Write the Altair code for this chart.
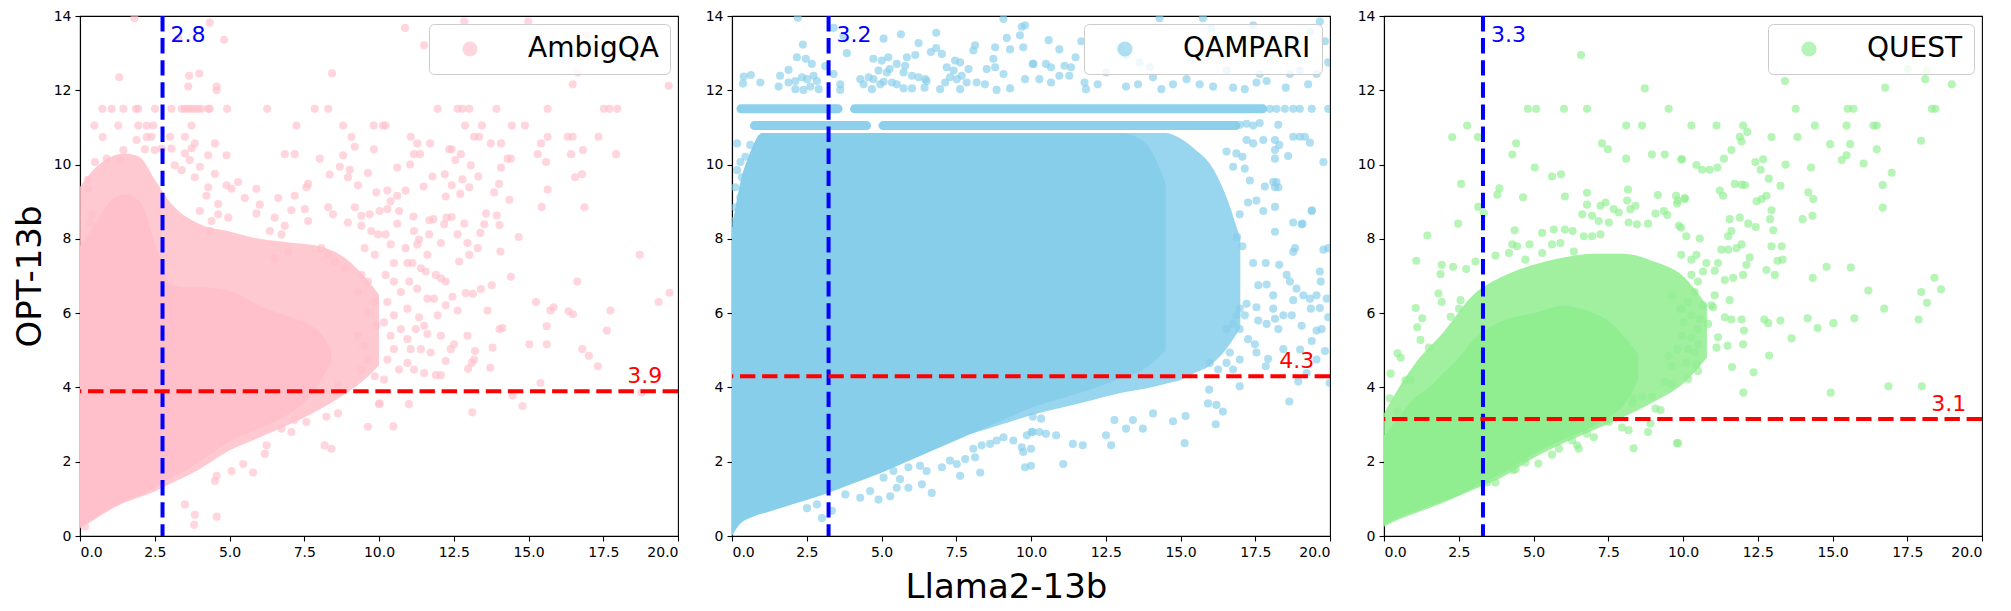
import altair as alt
import pandas as pd

NAMES = ["AmbigQA", "QAMPARI", "QUEST"]
COLORS = ["#FFC0CB", "#87CEEB", "#90EE90"]
VLINE = [2.76, 3.23, 3.31]
VLABEL = ["2.8", "3.2", "3.3"]
HLINE = [3.9, 4.3, 3.15]
HLABEL = ["3.9", "4.3", "3.1"]
HLABEL_X = 18.3
VLABEL_Y = 13.5
X_TICKS = [0, 2.5, 5, 7.5, 10, 12.5, 15, 17.5, 20]
Y_TICKS = [0, 2, 4, 6, 8, 10, 12, 14]

# ---------------- AmbigQA ----------------
AMBIG_CORE_X = [0, 0.5, 1, 1.5, 2, 2.5, 2.8, 3, 3.5, 4, 5, 6, 7, 7.5, 8, 8.4]
AMBIG_CORE_LO = [0.25, 0.5, 0.75, 0.94, 1.1, 1.3, 1.45, 1.55, 1.75, 2.0, 2.55, 2.9, 3.3, 3.6, 4.1, 4.7]
AMBIG_CORE_HI = [7.8, 8.4, 9.0, 9.2, 9.0, 7.9, 7.2, 6.8, 6.7, 6.7, 6.6, 6.2, 5.9, 5.75, 5.5, 5.0]
AMBIG_HALO_X = [0, 0.5, 1, 1.5, 2, 2.5, 3, 4, 5, 6, 7, 8, 9, 9.5, 10]
AMBIG_HALO_LO = [0.2, 0.45, 0.7, 0.9, 1.05, 1.2, 1.4, 1.8, 2.3, 2.65, 3.0, 3.4, 3.9, 4.2, 4.6]
AMBIG_HALO_HI = [9.4, 9.9, 10.2, 10.3, 10.2, 9.6, 9.0, 8.4, 8.2, 8.0, 7.9, 7.8, 7.4, 7.0, 6.5]
AMBIG_PTS = [
    (1.82, 13.94), (4.34, 13.82), (4.82, 13.36), (3.29, 13.39), (1.31, 12.35), (3.65, 12.39),
    (3.99, 12.45), (3.62, 12.1), (4.57, 12.1), (4.57, 12.0), (8.43, 12.46),
    (0.75, 11.5), (1.06, 11.5), (1.45, 11.5), (1.87, 11.5), (1.95, 11.5), (2.51, 11.5), (3.06, 11.5),
    (3.4, 11.5), (3.51, 11.5), (3.62, 11.5), (3.73, 11.5), (3.84, 11.5), (3.95, 11.5), (4.06, 11.5),
    (4.29, 11.5), (4.34, 11.5), (4.92, 11.5), (6.26, 11.5), (7.85, 11.5), (8.3, 11.5), (11.96, 11.5),
    (12.63, 11.5), (12.79, 11.5), (13.02, 11.5), (13.93, 11.5), (15.64, 11.5), (17.52, 11.5),
    (17.71, 11.5), (17.97, 11.5),
    (0.48, 11.05), (1.28, 11.05), (1.95, 11.05), (2.23, 11.05), (2.45, 11.05), (3.73, 11.05),
    (7.24, 11.05), (8.8, 11.05), (9.82, 11.05), (10.13, 11.05), (10.22, 11.05), (12.88, 11.05),
    (13.44, 11.05), (14.44, 11.05), (14.88, 11.05),
    (0.76, 10.74), (3.51, 10.75), (3.84, 10.57), (4.51, 10.57), (6.85, 10.28), (7.18, 10.28),
    (9.08, 10.74), (9.19, 10.48), (8.02, 10.16), (9.83, 10.41), (8.8, 10.25), (0.5, 10.07),
    (0.89, 10.16), (4.9, 10.25), (4.29, 10.25), (8.69, 9.94), (9.02, 9.86), (8.35, 9.73),
    (9.63, 9.77), (7.63, 9.48), (7.57, 9.39), (5.9, 9.35), (7.18, 9.16), (6.63, 9.1), (8.96, 9.66),
    (9.3, 9.44), (9.91, 9.25), (0.26, 9.59), (0.28, 9.35), (5.29, 9.53), (5.07, 9.35), (5.51, 9.1),
    (6.01, 8.92), (5.9, 8.68), (7.07, 8.77), (7.52, 8.8), (8.3, 8.85), (8.46, 8.66), (9.19, 8.85),
    (9.41, 8.62), (9.69, 8.66), (10.02, 8.75), (6.51, 8.57), (6.85, 8.35), (7.63, 8.48), (4.62, 8.66),
    (4.96, 8.57), (4.34, 8.21), (0.39, 8.66), (0.33, 8.44), (8.96, 8.44), (9.41, 8.35), (9.74, 8.21),
    (9.97, 8.12), (6.35, 8.21), (6.74, 8.12), (9.52, 7.75), (9.86, 7.57), (8.07, 7.75), (8.3, 7.57),
    (8.52, 7.39), (8.85, 7.21), (6.96, 7.66), (6.51, 7.48), (9.41, 7.03), (9.63, 6.85), (9.3, 6.57),
    (9.86, 6.3), (9.63, 6.03), (9.91, 5.66), (9.3, 5.39), (9.52, 5.12), (9.63, 4.75), (9.41, 4.48),
    (9.86, 4.3), (10.02, 3.57), (9.63, 2.94), (8.63, 4.07), (8.63, 3.3), (8.24, 3.21), (8.18, 2.44),
    (8.41, 2.35), (7.57, 3.07), (7.18, 3.12), (7.07, 2.8), (6.74, 2.89), (6.24, 2.44), (6.18, 2.21),
    (5.79, 1.71), (5.46, 1.94), (5.07, 1.75), (4.57, 1.62), (4.51, 1.48), (3.51, 0.85), (3.84, 0.57),
    (3.82, 0.3), (4.57, 0.52), (0.17, 0.25),
    (1.45, 10.39), (1.89, 10.66), (2.23, 10.74), (2.39, 10.75), (3.01, 10.75), (3.06, 10.43),
    (1.34, 10.12), (2.17, 10.41), (2.5, 10.39), (2.73, 10.43), (3.17, 9.98), (3.4, 9.85),
    (3.67, 10.12), (4.01, 9.94), (3.51, 10.3), (3.73, 10.44), (3.84, 9.66), (4.29, 9.39),
    (4.51, 9.75), (4.9, 9.44), (4.23, 9.16), (4.62, 8.94), (4.01, 8.75), (4.4, 8.48),
    (10.87, 13.68), (11.51, 13.21), (12.85, 13.85), (14.99, 13.85), (16.93, 13.48), (18.66, 13.25),
    (16.65, 12.48), (16.48, 12.16), (19.69, 12.12),
    (11.06, 10.75), (11.28, 10.57), (11.71, 10.57), (13.18, 10.75), (13.35, 10.75), (13.74, 10.57),
    (14.08, 10.57), (15.64, 10.75), (15.42, 10.57), (16.31, 10.75), (16.48, 10.75), (17.34, 10.75),
    (12.35, 10.41), (12.43, 10.41), (12.74, 10.28), (11.17, 10.28), (11.37, 10.28), (14.3, 10.16),
    (14.41, 10.16), (15.31, 10.28), (15.59, 10.07), (16.42, 10.28), (16.82, 10.39), (17.93, 10.28),
    (11.04, 10.0), (10.61, 9.92), (12.55, 10.12), (13.07, 9.98), (14.08, 9.92),
    (11.79, 9.68), (12.2, 9.74), (12.79, 9.6), (13.32, 9.68),
    (11.49, 9.41), (12.43, 9.44), (13.02, 9.39), (12.72, 9.21), (14.02, 9.48), (13.85, 9.25), (14.36, 9.05),
    (16.56, 9.66), (16.79, 9.74), (15.64, 9.33), (15.44, 8.86), (16.87, 8.85),
    (10.89, 9.3), (10.28, 9.3), (10.61, 9.16), (10.39, 9.01), (10.67, 8.75), (10.28, 8.8),
    (12.23, 9.14), (12.26, 8.57), (12.43, 8.59), (12.85, 8.41), (13.58, 8.68), (13.94, 8.63), (14.03, 8.37),
    (11.15, 8.6), (11.68, 8.5), (11.82, 8.53), (12.18, 8.39),
    (10.61, 8.41), (10.22, 8.12), (11.17, 8.21), (11.34, 7.98), (11.68, 8.12), (12.07, 7.89),
    (12.63, 8.12), (12.96, 7.89), (13.52, 8.39), (13.39, 8.16), (13.3, 7.75), (13.02, 7.57), (12.68, 7.39),
    (14.67, 8.05), (14.06, 7.66),
    (14.41, 6.98), (13.77, 6.75), (13.41, 6.65), (13.14, 6.52), (12.9, 6.54), (12.63, 6.07), (12.23, 6.21),
    (12.46, 6.44), (10.95, 7.35), (11.12, 7.35), (11.4, 7.21), (11.56, 7.12), (11.9, 7.03), (12.07, 6.94),
    (12.23, 6.85), (13.63, 6.07), (14.03, 5.57), (14.13, 5.6), (13.8, 5.07), (13.21, 4.98), (12.96, 5.39),
    (13.18, 4.75), (13.1, 4.66), (12.98, 4.5), (12.51, 5.16), (12.4, 5.03), (12.23, 4.71), (13.72, 4.53),
    (15.25, 6.3), (15.73, 6.07), (15.84, 6.16), (15.61, 5.65), (16.34, 6.05), (16.49, 5.97), (16.63, 6.85),
    (17.74, 6.07), (17.62, 5.53), (15.03, 5.16), (15.61, 5.16), (16.8, 5.03), (17.02, 4.85), (17.32, 4.57),
    (18.72, 7.57), (19.35, 6.3), (19.72, 6.55), (18.77, 3.86),
    (15.4, 4.12), (14.47, 3.78), (14.8, 3.5), (13.12, 3.33), (10.48, 2.95), (11.0, 3.55), (10.0, 3.55),
    (12.07, 4.33), (11.9, 4.33), (11.51, 4.39), (11.17, 4.48), (10.95, 4.66),
    (10.5, 7.35), (10.22, 7.03), (10.5, 6.85), (10.73, 6.57), (10.28, 6.3), (10.5, 5.94), (10.17, 5.75),
    (10.73, 5.57), (10.39, 5.39), (10.95, 5.3), (10.5, 5.03), (11.28, 6.66), (11.62, 6.39), (11.84, 6.39),
    (11.34, 5.89), (11.51, 5.66), (11.23, 5.57), (11.62, 5.44), (11.73, 4.94), (10.28, 4.75), (10.67, 4.48),
    (10.17, 4.21), (11.06, 5.03), (11.4, 5.03), (12.07, 5.39), (11.96, 5.94), (10.95, 6.12), (11.01, 6.85),
    (11.28, 7.85), (11.62, 7.57), (10.89, 7.75), (10.39, 7.85),
]

# ---------------- QAMPARI ----------------
QAMP_CORE_X = [0, 0.15, 0.3, 0.5, 0.7, 0.9, 1, 2, 3, 4, 5, 6, 7, 8, 9, 10, 11, 12, 13, 13.8, 14.5]
QAMP_CORE_LO = [0, 0.2, 0.35, 0.45, 0.52, 0.58, 0.6, 0.85, 1.1, 1.4, 1.7, 2.05, 2.4, 2.75, 3.1,
                3.45, 3.7, 3.95, 4.25, 4.5, 5.0]
QAMP_CORE_HI = [8.3, 9.0, 9.6, 10.1, 10.5, 10.8, 10.85, 10.85, 10.85, 10.85, 10.85, 10.85, 10.85,
                10.85, 10.85, 10.85, 10.85, 10.85, 10.85, 10.6, 9.5]
QAMP_HALO_X = [8, 9, 10, 11, 12, 13, 14, 14.5, 15, 15.5, 16, 16.5, 17]
QAMP_HALO_LO = [2.75, 3.0, 3.25, 3.45, 3.65, 3.85, 4.0, 4.1, 4.2, 4.4, 4.6, 5.0, 5.6]
QAMP_HALO_HI = [10.85, 10.85, 10.85, 10.85, 10.85, 10.85, 10.85, 10.85, 10.7, 10.4, 10.0, 9.2, 8.0]
QAMP_BAND_Y = [11.5, 11.5, 11.05, 11.05]
QAMP_BAND_X0 = [0.3, 4.1, 0.75, 5.05]
QAMP_BAND_X1 = [3.55, 17.75, 4.5, 16.85]
QAMP_PTS = [
    (1.56, 12.10), (1.89, 12.21), (2.12, 12.25), (2.34, 12.35), (2.51, 12.30), (2.73, 12.39),
    (2.84, 12.25), (2.62, 12.10), (2.12, 12.03), (2.39, 12.01), (2.90, 12.03), (3.40, 12.44),
    (3.62, 12.16), (3.62, 12.01), (4.73, 12.85), (5.01, 12.80), (5.23, 12.89), (5.27, 12.57),
    (4.90, 12.53), (5.18, 12.48), (5.51, 12.71), (5.85, 12.89), (6.13, 12.95), (5.79, 12.66),
    (5.74, 12.48), (6.02, 12.39), (6.24, 12.35), (6.46, 12.30), (6.02, 12.05), (5.74, 12.05),
    (5.51, 12.16), (5.35, 12.21), (5.07, 12.23), (4.73, 12.30), (4.57, 12.35), (4.29, 12.30),
    (4.40, 12.16), (4.68, 12.03), (4.96, 12.16), (6.65, 13.03), (6.83, 13.14), (7.02, 12.98),
    (7.18, 12.62), (7.46, 12.80), (7.63, 12.75), (7.41, 12.53), (7.29, 12.35), (7.52, 12.30),
    (7.68, 12.39), (7.85, 12.21), (7.63, 12.03), (8.13, 13.21), (8.07, 13.07), (8.80, 13.16),
    (8.74, 12.85), (8.80, 12.62), (9.08, 12.44), (9.19, 13.41), (9.30, 13.10), (9.69, 13.71),
    (9.63, 13.48), (9.74, 13.16), (9.08, 13.92), (9.80, 13.75), (10.08, 12.71), (9.80, 12.30),
    (9.30, 12.05), (8.85, 12.01), (8.46, 12.16), (8.52, 12.57), (8.18, 12.21), (7.91, 12.57),
    (7.13, 12.21), (6.96, 12.03), (6.51, 12.25), (6.44, 12.07), (0.39, 12.37), (0.63, 12.41),
    (0.37, 12.18), (0.95, 12.21), (1.61, 12.39), (1.89, 12.55), (2.17, 12.89), (2.47, 12.85),
    (2.67, 12.71), (2.37, 13.23), (2.2, 13.95), (3.4, 13.68), (3.73, 13.46), (3.84, 13.0),
    (5.07, 13.39), (5.65, 13.51), (6.83, 13.55), (6.24, 13.27), (3.12, 12.65),
    (0.17, 10.57), (0.28, 10.07), (0.17, 9.85), (0.33, 9.66), (0.45, 10.21), (0.61, 10.53),
    (0.11, 9.39), (0.28, 9.12), (0.11, 8.85), (0.06, 8.48),
    (3.01, 0.48), (3.34, 0.68), (3.28, 1.57), (2.51, 0.75), (2.84, 0.85), (3.79, 1.12), (4.29, 1.03),
    (4.62, 1.21), (4.90, 0.98), (5.29, 1.07), (5.51, 1.30), (5.90, 1.30), (6.35, 1.39), (6.68, 1.16),
    (6.51, 1.75), (7.02, 1.85), (7.29, 2.03), (7.63, 1.62), (7.52, 1.94), (7.80, 2.07), (8.13, 2.12),
    (8.30, 1.71), (8.07, 2.35), (8.35, 2.44), (8.63, 2.48), (8.85, 2.57), (9.08, 2.66), (9.41, 2.57),
    (9.69, 2.39), (9.74, 2.26), (9.80, 1.85), (9.86, 2.71), (10.02, 2.80), (5.07, 1.57), (5.40, 1.75),
    (5.62, 1.53), (5.90, 1.85), (6.29, 1.89),
    (10.59, 13.35), (10.95, 13.10), (11.68, 13.32), (11.49, 12.89), (11.12, 12.66), (11.34, 12.62),
    (10.50, 12.71), (10.67, 12.62), (10.06, 12.71), (10.28, 12.30), (10.67, 12.21), (10.95, 12.39),
    (11.28, 12.39), (11.79, 12.21), (11.84, 12.03), (12.23, 12.16), (12.51, 12.48), (12.96, 13.16),
    (13.18, 12.94), (13.63, 12.75), (13.97, 12.62), (14.08, 12.35), (13.58, 12.16), (13.18, 12.10),
    (14.36, 12.03), (14.75, 12.16), (15.20, 12.30), (14.30, 13.94), (15.75, 13.94), (16.03, 13.66),
    (17.43, 13.75), (16.11, 13.30), (16.48, 12.94), (16.54, 12.53), (15.64, 12.16), (16.09, 12.10),
    (16.76, 12.07), (17.15, 12.03), (17.54, 12.21), (17.88, 12.25), (17.65, 12.44), (18.52, 12.07),
    (18.66, 12.44), (19.33, 13.57), (19.83, 13.32), (19.55, 12.44), (18.99, 12.53), (19.27, 12.16),
    (19.94, 12.75), (19.66, 13.85),
    (17.99, 11.5), (18.21, 11.5), (18.49, 11.5), (18.77, 11.5), (18.99, 11.5), (19.39, 11.5), (19.94, 11.5),
    (16.98, 11.07), (17.21, 11.1), (17.43, 11.05), (17.65, 11.12), (18.27, 11.07),
    (18.77, 10.75), (18.99, 10.75), (19.16, 10.75), (19.33, 10.59), (18.16, 10.66), (18.30, 10.53),
    (18.16, 10.39), (18.60, 10.23), (18.16, 10.16), (19.78, 10.07), (17.77, 10.66), (17.21, 10.66),
    (17.43, 10.57), (17.07, 10.21), (16.87, 10.30), (16.54, 10.35), (16.76, 9.94), (17.15, 9.89),
    (17.32, 9.57), (17.82, 9.41), (18.21, 9.53), (18.27, 9.39), (16.98, 8.66), (17.26, 8.98),
    (17.54, 9.03), (17.77, 8.75), (18.16, 8.86), (18.16, 8.19), (18.77, 8.44), (19.08, 8.41),
    (19.39, 8.77), (18.77, 7.65), (18.83, 7.75), (19.78, 7.71), (19.94, 7.75),
    (16.89, 8.05), (17.07, 7.80), (17.43, 7.35), (17.85, 7.35), (18.30, 7.30), (18.55, 7.03),
    (18.66, 6.85), (18.88, 6.66), (19.11, 6.48), (19.33, 6.39), (18.77, 6.35), (19.69, 6.85),
    (19.55, 6.48), (19.89, 6.39), (19.66, 6.14), (19.94, 5.89), (19.72, 5.57), (19.55, 5.53),
    (19.39, 5.25), (17.60, 6.75), (17.88, 6.77), (18.10, 6.48), (18.16, 5.85), (17.88, 5.71),
    (17.60, 5.80), (17.54, 6.16), (17.21, 6.25), (16.98, 6.12), (16.87, 5.94), (17.15, 5.94),
    (16.76, 5.71), (16.54, 5.57), (16.98, 5.57), (17.26, 5.30), (17.49, 5.16), (17.54, 4.94),
    (16.98, 4.75), (16.65, 4.94), (16.54, 4.66), (16.76, 4.48), (16.98, 4.03), (16.26, 4.48),
    (15.98, 4.66), (15.96, 3.94), (16.20, 3.53), (16.42, 3.35), (16.18, 3.01), (15.92, 3.57),
    (15.14, 2.50), (14.75, 3.09), (15.17, 3.23), (14.08, 3.30), (13.74, 2.89), (13.41, 3.12),
    (13.18, 2.89), (12.79, 3.12), (12.68, 2.44), (12.51, 2.71), (11.73, 2.44), (11.40, 2.48),
    (11.08, 1.94), (10.84, 2.71), (10.50, 2.75), (10.28, 2.80), (10.06, 2.80), (10.0, 2.35),
    (10.0, 1.89), (10.34, 3.16), (10.06, 3.21),
    (17.93, 4.77), (17.85, 4.57), (18.64, 3.62), (18.94, 4.16), (19.55, 4.75), (19.83, 4.98),
    (19.99, 4.12), (19.22, 4.39), (19.0, 5.02), (18.44, 5.03), (18.27, 5.57), (18.72, 5.94),
    (19.05, 5.66), (18.10, 6.12), (18.44, 5.94), (19.36, 6.12), (19.66, 7.12), (19.39, 8.75),
    (19.05, 8.39), (18.1, 9.53), (18.16, 9.39),
]

# ---------------- QUEST ----------------
QUEST_CORE_X = [0, 0.5, 1, 1.5, 2, 2.5, 3, 3.5, 4, 5, 6, 7, 7.5, 8, 8.5]
QUEST_CORE_LO = [0.3, 0.5, 0.65, 0.8, 0.95, 1.1, 1.3, 1.5, 1.7, 2.2, 2.6, 2.95, 3.2, 3.5, 4.2]
QUEST_CORE_HI = [2.7, 3.2, 3.7, 4.0, 4.4, 4.8, 5.3, 5.6, 5.8, 6.0, 6.2, 6.0, 5.8, 5.4, 4.9]
QUEST_HALO_X = [0, 0.5, 1, 2, 3, 4, 5, 6, 7, 8, 9, 10, 10.8]
QUEST_HALO_LO = [0.25, 0.45, 0.6, 0.9, 1.25, 1.6, 2.1, 2.5, 2.85, 3.2, 3.6, 4.1, 4.8]
QUEST_HALO_HI = [3.3, 4.0, 4.6, 5.5, 6.5, 7.0, 7.3, 7.5, 7.6, 7.6, 7.4, 7.0, 6.2]
QUEST_PTS = [
    (6.59, 12.95), (8.72, 12.05), (4.81, 11.5), (5.09, 11.5), (6.02, 11.5), (6.79, 11.5), (9.52, 11.5),
    (2.78, 11.05), (2.28, 10.74), (3.14, 10.74), (8.10, 11.05), (8.63, 11.05), (4.42, 10.57),
    (4.29, 10.27), (7.29, 10.57), (7.49, 10.41), (8.10, 10.16), (8.96, 10.27), (9.39, 10.27),
    (9.97, 10.14), (5.04, 9.92), (5.62, 9.68), (5.92, 9.74), (2.58, 9.48), (3.86, 9.36), (3.79, 9.19),
    (4.65, 9.12), (6.05, 9.14), (6.79, 9.24), (8.16, 9.33), (9.16, 9.18), (9.77, 9.16), (10.06, 9.07),
    (3.15, 8.86), (3.34, 8.69), (2.48, 8.41), (1.45, 8.09), (6.79, 8.92), (7.24, 8.89), (7.41, 8.98),
    (7.68, 8.80), (8.13, 9.03), (8.41, 8.89), (8.24, 8.80), (6.63, 8.66), (6.96, 8.62), (7.18, 8.48),
    (7.52, 8.44), (7.85, 8.71), (8.18, 8.44), (8.46, 8.39), (8.83, 8.41), (9.08, 8.68), (9.36, 8.75),
    (9.47, 8.64), (9.80, 8.95), (9.86, 8.35), (4.37, 8.23), (5.29, 8.16), (5.68, 8.25), (6.05, 8.25),
    (6.31, 8.21), (6.68, 8.07), (6.96, 8.07), (7.24, 8.12), (1.08, 7.41), (1.93, 7.30), (2.31, 7.25),
    (2.75, 7.19), (1.89, 7.05), (3.06, 7.39), (4.29, 7.85), (4.87, 7.85), (4.45, 7.80), (4.18, 7.62),
    (3.73, 7.55), (4.73, 7.44), (5.29, 7.62), (5.62, 7.85), (5.90, 7.89), (6.35, 7.66),
    (1.06, 6.14), (1.28, 5.86), (1.11, 5.62), (1.82, 6.53), (1.93, 6.30), (2.56, 6.35), (2.51, 6.12),
    (2.23, 5.90), (0.45, 4.92), (0.56, 4.80), (0.22, 4.37), (0.19, 3.71), (0.45, 3.35), (1.22, 5.28),
    (1.50, 5.07), (0.72, 4.19), (0.89, 4.21),
    (9.63, 6.48), (9.91, 6.12), (10.02, 5.75), (9.97, 5.39), (9.80, 5.03), (9.52, 4.85), (9.63, 4.57),
    (9.39, 4.15), (9.63, 4.10), (8.96, 3.75), (8.63, 3.75), (8.35, 3.71), (8.30, 3.57), (9.08, 3.43),
    (9.25, 3.39), (8.91, 3.03), (8.83, 2.80), (9.80, 2.50), (8.35, 2.36), (8.18, 2.85), (7.96, 2.92),
    (7.52, 3.07), (7.41, 3.12), (7.02, 2.66), (6.79, 2.75), (6.51, 2.35), (6.46, 2.44), (6.29, 2.57),
    (5.62, 2.19), (5.85, 2.35), (5.16, 1.95), (4.73, 1.98), (4.40, 1.80), (4.32, 1.77), (3.73, 1.44),
    (3.45, 1.44),
    (13.41, 12.25), (16.76, 12.07), (18.10, 12.30), (18.16, 12.53), (17.52, 12.57), (18.99, 12.16),
    (13.77, 11.5), (15.51, 11.5), (15.70, 11.5), (18.32, 11.5), (18.44, 11.5),
    (10.28, 11.05), (11.12, 11.05), (12.01, 11.05), (14.41, 11.05), (15.47, 11.05), (16.37, 11.05),
    (16.48, 11.05), (11.90, 10.75), (12.15, 10.88), (11.96, 10.62), (12.96, 10.74), (13.83, 10.74),
    (14.92, 10.55), (15.59, 10.55), (17.96, 10.64), (11.62, 10.39), (11.37, 10.16), (9.94, 10.14),
    (10.45, 9.99), (10.64, 9.86), (10.89, 9.86), (11.15, 9.92), (12.42, 10.07), (12.68, 10.14),
    (12.60, 9.86), (12.87, 9.62), (13.43, 10.0), (14.28, 9.92), (13.26, 9.43), (15.31, 10.12),
    (15.47, 10.25), (16.48, 10.41), (16.04, 10.03), (16.98, 9.78), (16.68, 9.45), (16.68, 8.84),
    (11.73, 9.48), (11.96, 9.46), (12.07, 9.45), (11.23, 9.30), (11.34, 9.16), (12.46, 9.01),
    (12.63, 9.07), (12.79, 9.16), (12.96, 8.77), (12.91, 8.53), (13.02, 8.23), (14.19, 9.25),
    (14.36, 9.07), (14.33, 8.62), (14.0, 8.53), (9.83, 9.03), (10.06, 9.10), (9.94, 8.30),
    (11.56, 8.53), (11.90, 8.57), (12.18, 8.41), (12.43, 8.32), (11.62, 8.21), (11.51, 8.07),
    (10.56, 8.01), (10.11, 8.07), (12.96, 7.80), (13.30, 7.80), (13.16, 7.41), (13.33, 7.44),
    (12.79, 7.16), (13.07, 7.03), (14.80, 7.25), (15.61, 7.23), (14.34, 6.95), (16.20, 6.61),
    (16.73, 6.12), (17.97, 6.57), (18.16, 6.28), (18.41, 6.95), (18.63, 6.64), (17.88, 5.83),
    (14.17, 5.86), (14.50, 5.60), (15.03, 5.73), (15.73, 5.86), (13.63, 5.32), (13.26, 5.80),
    (12.72, 5.83), (12.85, 5.73), (12.88, 4.86), (12.36, 4.41), (11.64, 4.55), (12.01, 5.16),
    (12.04, 5.53), (11.96, 5.83), (11.62, 5.83), (11.49, 5.12), (11.17, 5.35), (11.12, 5.07),
    (12.02, 3.86), (14.94, 3.86), (16.87, 4.03), (17.99, 4.03), (9.83, 2.50),
    (10.17, 4.23), (10.50, 4.44), (10.45, 4.62), (10.11, 4.66), (10.39, 4.94), (10.17, 5.03),
    (10.50, 5.16), (10.28, 5.35), (10.50, 5.57), (10.84, 5.71), (10.56, 5.85), (10.28, 5.94),
    (11.06, 6.48), (10.95, 6.21), (10.67, 6.21), (10.39, 6.57), (10.17, 6.30), (9.94, 6.12),
    (10.50, 6.85), (10.28, 7.03), (10.67, 7.12), (11.06, 7.14), (11.17, 7.35), (10.78, 7.35),
    (10.45, 7.57), (10.28, 7.44), (9.94, 7.57), (11.28, 7.71), (11.51, 7.71), (11.79, 7.75),
    (11.96, 7.85), (12.23, 7.50), (12.12, 7.30), (12.01, 7.03), (11.68, 6.95), (11.40, 6.89),
    (11.56, 6.35), (11.40, 5.89), (11.01, 6.16),
]

FONT = "DejaVu Sans"
PT_SIZE = 66
PT_OPACITY = 0.65
HALO_OPACITY = 0.86


def band_df(xs, lo, hi):
    return pd.DataFrame({"x": xs, "lo": lo, "hi": hi})


def panel(i, core, halo, pts, bands=None, ytitle=False, xtitle=False):
    color = COLORS[i]
    xscale = alt.Scale(domain=[0, 20], nice=False)
    yscale = alt.Scale(domain=[0, 14], nice=False)
    xaxis_kw = dict(values=X_TICKS, format=".1f", grid=False)
    if xtitle:
        xaxis_kw.update(title="Llama2-13b", titleX=274, titleY=61, titleBaseline="alphabetic",
                        titleAlign="center", titleFontSize=34, titleFontWeight="normal",
                        titleFont=FONT, titleColor="black")
    else:
        xaxis_kw.update(title=None)
    yaxis_kw = dict(values=Y_TICKS, format="d", grid=False)
    if ytitle:
        yaxis_kw.update(title="OPT-13b", titleFontSize=34, titlePadding=6,
                        titleFontWeight="normal", titleFont=FONT, titleColor="black")
    else:
        yaxis_kw.update(title=None)
    X = lambda f: alt.X(f, type="quantitative", scale=xscale, axis=alt.Axis(**xaxis_kw))
    Y = lambda f: alt.Y(f, type="quantitative", scale=yscale, axis=alt.Axis(**yaxis_kw))

    halo_l = alt.Chart(band_df(*halo)).mark_area(
        color=color, opacity=HALO_OPACITY, interpolate="monotone", clip=True
    ).encode(x=X("x"), y=Y("lo"), y2="hi")
    core_l = alt.Chart(band_df(*core)).mark_area(
        color=color, opacity=1, interpolate="monotone", clip=True
    ).encode(x=X("x"), y=Y("lo"), y2="hi")
    layers = [halo_l, core_l]
    if bands is not None:
        bdf = pd.DataFrame({"y": bands[0], "x0": bands[1], "x1": bands[2]})
        layers.append(
            alt.Chart(bdf).mark_rule(color=color, strokeWidth=9, strokeCap="round",
                                     opacity=0.95, clip=True)
            .encode(x=X("x0"), x2="x1", y=Y("y"))
        )
    pdf = pd.DataFrame({"x": [p[0] for p in pts], "y": [p[1] for p in pts],
                        "dataset": NAMES[i]})
    layers.append(
        alt.Chart(pdf).mark_circle(size=PT_SIZE, opacity=PT_OPACITY, clip=True).encode(
            x=X("x"), y=Y("y"),
            color=alt.Color("dataset:N",
                            scale=alt.Scale(domain=[NAMES[i]], range=[color]),
                            legend=alt.Legend(
                                title=None, orient="top-right", offset=8, padding=11,
                                strokeColor="#cccccc", fillColor="rgba(255,255,255,0.8)",
                                cornerRadius=5, labelFont=FONT, labelFontSize=28,
                                labelColor="black", symbolType="circle", symbolSize=230,
                                symbolOpacity=0.65, symbolStrokeWidth=0, symbolOffset=16,
                                labelOffset=44)),
        )
    )
    vdf = pd.DataFrame({"v": [VLINE[i]], "label": [VLABEL[i]], "ty": [VLABEL_Y]})
    hdf = pd.DataFrame({"v": [HLINE[i]], "label": [HLABEL[i]], "tx": [HLABEL_X]})
    layers.append(alt.Chart(vdf).mark_rule(color="#0000FF", strokeWidth=4,
                                           strokeDash=[15.4, 6.7]).encode(x=X("v")))
    layers.append(alt.Chart(hdf).mark_rule(color="#FF0000", strokeWidth=4,
                                           strokeDash=[15.4, 6.7]).encode(y=Y("v")))
    layers.append(alt.Chart(vdf).mark_text(color="#0000FF", font=FONT, fontSize=22,
                                           align="left", baseline="middle", dx=8)
                  .encode(x=X("v"), y=Y("ty"), text="label:N"))
    layers.append(alt.Chart(hdf).mark_text(color="#FF0000", font=FONT, fontSize=22,
                                           align="left", baseline="alphabetic", dy=-8)
                  .encode(x=X("tx"), y=Y("v"), text="label:N"))
    return alt.layer(*layers).properties(width=598, height=520)


p1 = panel(0, (AMBIG_CORE_X, AMBIG_CORE_LO, AMBIG_CORE_HI),
           (AMBIG_HALO_X, AMBIG_HALO_LO, AMBIG_HALO_HI), AMBIG_PTS, ytitle=True)
p2 = panel(1, (QAMP_CORE_X, QAMP_CORE_LO, QAMP_CORE_HI),
           (QAMP_HALO_X, QAMP_HALO_LO, QAMP_HALO_HI), QAMP_PTS,
           bands=(QAMP_BAND_Y, QAMP_BAND_X0, QAMP_BAND_X1), xtitle=True)
p3 = panel(2, (QUEST_CORE_X, QUEST_CORE_LO, QUEST_CORE_HI),
           (QUEST_HALO_X, QUEST_HALO_LO, QUEST_HALO_HI), QUEST_PTS)

chart = (
    alt.hconcat(p1, p2, p3, spacing=23)
    .resolve_scale(color="independent")
    .resolve_legend(color="independent")
    .properties(padding={"left": 4, "top": 0, "right": 5, "bottom": 5}, background="white")
    .configure_view(stroke="black", strokeWidth=1.1)
    .configure_axis(
        domainColor="black", domainWidth=1.1, tickColor="black", tickWidth=1.1, tickSize=5,
        labelColor="black", labelFont=FONT, labelFontSize=14, labelPadding=4,
        titleFont=FONT, titleColor="black", titleFontWeight="normal",
    )
)

chart.save("out.html", embed_options={"renderer": "svg", "actions": False})
